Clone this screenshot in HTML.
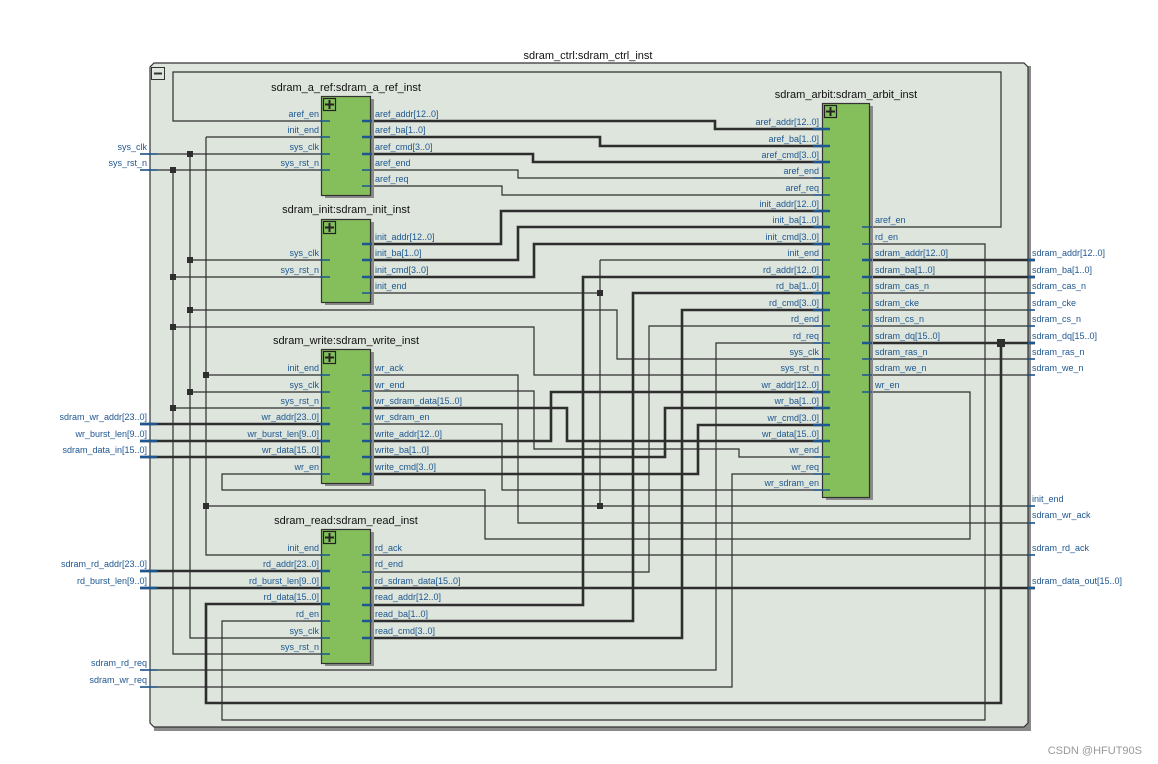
<!DOCTYPE html>
<html><head><meta charset="utf-8"><style>
html,body{margin:0;padding:0;background:#fff;}
svg{display:block;font-family:"Liberation Sans","DejaVu Sans",sans-serif;}
.p{font-size:9px;fill:#1d5690;}
.t{font-size:11px;fill:#111;}
.w{fill:none;stroke:#2e2e2e;stroke-width:1.2;}
.k{fill:none;stroke:#2e2e2e;stroke-width:2.6;}
.s{stroke:#1d5690;stroke-width:1.4;}
.sk{stroke:#1d5690;stroke-width:2.6;}
.blk{fill:#84bf5c;stroke:#333;stroke-width:1.2;}
.sh{fill:#8a8a8a;}
</style></head><body>
<svg width="1158" height="764" viewBox="0 0 1158 764">
<rect width="1158" height="764" fill="#fff"/>
<!-- outer box -->
<polygon points="154,66 1031,66 1031,731 154,731" fill="#8a8a8a"/>
<polygon points="154,63 1024,63 1028,67 1028,723 1024,727 154,727 150,723 150,67" fill="#dde5dc" stroke="#333" stroke-width="1.2"/>
<text class="t" x="588" y="59" text-anchor="middle">sdram_ctrl:sdram_ctrl_inst</text>
<rect x="151.5" y="67.5" width="13" height="12" fill="none" stroke="#333"/>
<line x1="154" y1="73.5" x2="162" y2="73.5" stroke="#333" stroke-width="2"/>

<!-- thin wires -->
<path class="w" d="M862,227H1001V72H173V121H330"/>
<path class="w" d="M206,137H330M206,137V555H330M206,375H330M206,506H1035"/>
<path class="w" d="M362,293H600M600,260V506M600,260H830"/>
<path class="w" d="M140,154H330M190,154V638H330M190,260H330M190,310H617V359H830M190,392H330"/>
<path class="w" d="M140,170H330M173,170V654H330M173,277H330M173,327H534V375H830M173,408H330"/>
<path class="w" d="M362,170H518V178H830"/>
<path class="w" d="M362,186H502V195H830"/>
<path class="w" d="M362,572H649V326H830"/>
<path class="w" d="M140,670H716V343H830"/>
<path class="w" d="M362,391H534V449H739V457H830"/>
<path class="w" d="M140,687H732V474H830"/>
<path class="w" d="M362,424H502V490H830"/>
<path class="w" d="M362,375H518V523H1035"/>
<path class="w" d="M362,555H1035"/>
<path class="w" d="M862,392H970V539H485V490H222V474H330"/>
<path class="w" d="M862,244H985V720H222V621H330"/>
<path class="w" d="M862,293H1035M862,310H1035M862,326H1035M862,359H1035M862,375H1035"/>
<!-- thick wires -->
<path class="k" d="M362,121H715V129H830"/>
<path class="k" d="M362,137H600V146H830"/>
<path class="k" d="M362,154H533V162H830"/>
<path class="k" d="M362,244H501V211H830"/>
<path class="k" d="M362,260H518V227H830"/>
<path class="k" d="M362,277H534V244H830"/>
<path class="k" d="M362,605H583V277H830"/>
<path class="k" d="M362,621H633V293H830"/>
<path class="k" d="M362,638H682V310H830"/>
<path class="k" d="M362,441H551V392H830"/>
<path class="k" d="M362,457H665V408H830"/>
<path class="k" d="M362,474H698V425H830"/>
<path class="k" d="M362,408H567V441H830"/>
<path class="k" d="M862,260H1035M862,277H1035M862,343H1035"/>
<path class="k" d="M1001,343V703H206V604H330"/>
<path class="k" d="M362,588H1035"/>
<path class="k" d="M140,424H330M140,441H330M140,457H330M140,571H330M140,588H330"/>
<!-- dots -->
<g fill="#2e2e2e">
<rect x="187" y="151" width="6" height="6"/><rect x="170" y="167" width="6" height="6"/>
<rect x="187" y="257" width="6" height="6"/><rect x="170" y="274" width="6" height="6"/>
<rect x="187" y="307" width="6" height="6"/><rect x="170" y="324" width="6" height="6"/>
<rect x="203" y="372" width="6" height="6"/><rect x="187" y="389" width="6" height="6"/>
<rect x="170" y="405" width="6" height="6"/><rect x="203" y="503" width="6" height="6"/>
<rect x="597" y="290" width="6" height="6"/><rect x="597" y="503" width="6" height="6"/>
<rect x="997" y="339" width="8" height="8"/>
</g>

<!-- blocks -->
<rect class="sh" x="325" y="99" width="49" height="99"/>
<rect class="blk" x="321.5" y="96.5" width="49" height="99"/>
<rect class="sh" x="325" y="222" width="49" height="83"/>
<rect class="blk" x="321.5" y="219.5" width="49" height="83"/>
<rect class="sh" x="325" y="352" width="49" height="134"/>
<rect class="blk" x="321.5" y="349.5" width="49" height="134"/>
<rect class="sh" x="325" y="532" width="49" height="134"/>
<rect class="blk" x="321.5" y="529.5" width="49" height="134"/>
<rect class="sh" x="826" y="106" width="47" height="394"/>
<rect class="blk" x="822.5" y="103.5" width="47" height="394"/>
<g fill="none" stroke="#222" stroke-width="1.2">
<rect x="323.5" y="98.5" width="12" height="12"/><rect x="323.5" y="221.5" width="12" height="12"/>
<rect x="323.5" y="351.5" width="12" height="12"/><rect x="323.5" y="531.5" width="12" height="12"/>
<rect x="824.5" y="105.5" width="12" height="12"/>
</g>
<g stroke="#222" stroke-width="2">
<path d="M325,104.5h9M329.5,100v9M325,227.5h9M329.5,223v9M325,357.5h9M329.5,353v9M325,537.5h9M329.5,533v9M826,111.5h9M830.5,107v9"/>
</g>
<g class="t" text-anchor="middle">
<text x="346" y="91">sdram_a_ref:sdram_a_ref_inst</text>
<text x="346" y="213">sdram_init:sdram_init_inst</text>
<text x="346" y="344">sdram_write:sdram_write_inst</text>
<text x="346" y="524">sdram_read:sdram_read_inst</text>
<text x="846" y="98">sdram_arbit:sdram_arbit_inst</text>
</g>

<!-- stubs -->
<g class="s">
<path d="M320,121h10M320,137h10M320,154h10M320,170h10M362,170h10M362,186h10M320,260h10M320,277h10M362,293h10M320,375h10M320,392h10M320,408h10M320,474h10M362,375h10M362,391h10M362,424h10M320,555h10M320,621h10M320,638h10M320,654h10M362,555h10M362,572h10"/>
<path d="M813,178h17M813,195h17M813,260h17M813,326h17M813,343h17M813,359h17M813,375h17M813,457h17M813,474h17M813,490h17M862,227h10M862,244h10M862,293h10M862,310h10M862,326h10M862,359h10M862,375h10M862,392h10"/>
<path d="M140,154h17M140,170h17M140,670h17M140,687h17M1028,293h7M1028,310h7M1028,326h7M1028,359h7M1028,375h7M1028,506h7M1028,523h7M1028,555h7"/>
</g>
<g class="sk">
<path d="M362,121h10M362,137h10M362,154h10M362,244h10M362,260h10M362,277h10M320,424h10M320,441h10M320,457h10M362,408h10M362,441h10M362,457h10M362,474h10M320,571h10M320,588h10M320,604h10M362,588h10M362,605h10M362,621h10M362,638h10"/>
<path d="M813,129h17M813,146h17M813,162h17M813,211h17M813,227h17M813,244h17M813,277h17M813,293h17M813,310h17M813,392h17M813,408h17M813,425h17M813,441h17M862,260h10M862,277h10M862,343h10"/>
<path d="M140,424h17M140,441h17M140,457h17M140,571h17M140,588h17M1028,260h7M1028,277h7M1028,343h7M1028,588h7"/>
</g>

<!-- port labels -->
<g class="p" text-anchor="end">
<text x="319" y="117">aref_en</text><text x="319" y="133">init_end</text><text x="319" y="150">sys_clk</text><text x="319" y="166">sys_rst_n</text>
<text x="319" y="256">sys_clk</text><text x="319" y="273">sys_rst_n</text>
<text x="319" y="371">init_end</text><text x="319" y="388">sys_clk</text><text x="319" y="404">sys_rst_n</text><text x="319" y="420">wr_addr[23..0]</text><text x="319" y="437">wr_burst_len[9..0]</text><text x="319" y="453">wr_data[15..0]</text><text x="319" y="470">wr_en</text>
<text x="319" y="551">init_end</text><text x="319" y="567">rd_addr[23..0]</text><text x="319" y="584">rd_burst_len[9..0]</text><text x="319" y="600">rd_data[15..0]</text><text x="319" y="617">rd_en</text><text x="319" y="634">sys_clk</text><text x="319" y="650">sys_rst_n</text>
<text x="819" y="125">aref_addr[12..0]</text><text x="819" y="142">aref_ba[1..0]</text><text x="819" y="158">aref_cmd[3..0]</text><text x="819" y="174">aref_end</text><text x="819" y="191">aref_req</text><text x="819" y="207">init_addr[12..0]</text><text x="819" y="223">init_ba[1..0]</text><text x="819" y="240">init_cmd[3..0]</text><text x="819" y="256">init_end</text><text x="819" y="273">rd_addr[12..0]</text><text x="819" y="289">rd_ba[1..0]</text><text x="819" y="306">rd_cmd[3..0]</text><text x="819" y="322">rd_end</text><text x="819" y="339">rd_req</text><text x="819" y="355">sys_clk</text><text x="819" y="371">sys_rst_n</text><text x="819" y="388">wr_addr[12..0]</text><text x="819" y="404">wr_ba[1..0]</text><text x="819" y="421">wr_cmd[3..0]</text><text x="819" y="437">wr_data[15..0]</text><text x="819" y="453">wr_end</text><text x="819" y="470">wr_req</text><text x="819" y="486">wr_sdram_en</text>
<text x="147" y="150">sys_clk</text><text x="147" y="166">sys_rst_n</text><text x="147" y="420">sdram_wr_addr[23..0]</text><text x="147" y="437">wr_burst_len[9..0]</text><text x="147" y="453">sdram_data_in[15..0]</text><text x="147" y="567">sdram_rd_addr[23..0]</text><text x="147" y="584">rd_burst_len[9..0]</text><text x="147" y="666">sdram_rd_req</text><text x="147" y="683">sdram_wr_req</text>
</g>
<g class="p">
<text x="375" y="117">aref_addr[12..0]</text><text x="375" y="133">aref_ba[1..0]</text><text x="375" y="150">aref_cmd[3..0]</text><text x="375" y="166">aref_end</text><text x="375" y="182">aref_req</text>
<text x="375" y="240">init_addr[12..0]</text><text x="375" y="256">init_ba[1..0]</text><text x="375" y="273">init_cmd[3..0]</text><text x="375" y="289">init_end</text>
<text x="375" y="371">wr_ack</text><text x="375" y="388">wr_end</text><text x="375" y="404">wr_sdram_data[15..0]</text><text x="375" y="420">wr_sdram_en</text><text x="375" y="437">write_addr[12..0]</text><text x="375" y="453">write_ba[1..0]</text><text x="375" y="470">write_cmd[3..0]</text>
<text x="375" y="551">rd_ack</text><text x="375" y="567">rd_end</text><text x="375" y="584">rd_sdram_data[15..0]</text><text x="375" y="600">read_addr[12..0]</text><text x="375" y="617">read_ba[1..0]</text><text x="375" y="634">read_cmd[3..0]</text>
<text x="875" y="223">aref_en</text><text x="875" y="240">rd_en</text><text x="875" y="256">sdram_addr[12..0]</text><text x="875" y="273">sdram_ba[1..0]</text><text x="875" y="289">sdram_cas_n</text><text x="875" y="306">sdram_cke</text><text x="875" y="322">sdram_cs_n</text><text x="875" y="339">sdram_dq[15..0]</text><text x="875" y="355">sdram_ras_n</text><text x="875" y="371">sdram_we_n</text><text x="875" y="388">wr_en</text>
<text x="1032" y="256">sdram_addr[12..0]</text><text x="1032" y="273">sdram_ba[1..0]</text><text x="1032" y="289">sdram_cas_n</text><text x="1032" y="306">sdram_cke</text><text x="1032" y="322">sdram_cs_n</text><text x="1032" y="339">sdram_dq[15..0]</text><text x="1032" y="355">sdram_ras_n</text><text x="1032" y="371">sdram_we_n</text><text x="1032" y="502">init_end</text><text x="1032" y="518">sdram_wr_ack</text><text x="1032" y="551">sdram_rd_ack</text><text x="1032" y="584">sdram_data_out[15..0]</text>
</g>
<text x="1142" y="754" text-anchor="end" style="font-size:11px;fill:#999">CSDN @HFUT90S</text>
</svg>
</body></html>
